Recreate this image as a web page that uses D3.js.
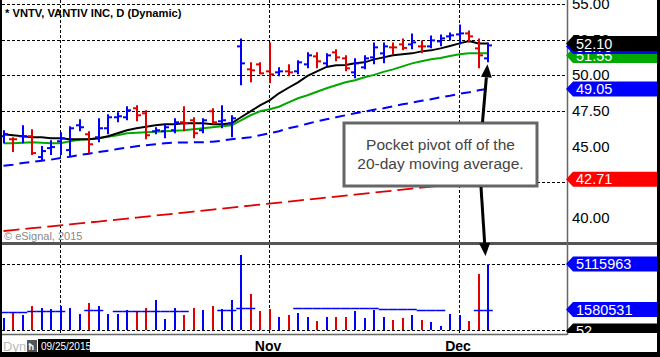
<!DOCTYPE html>
<html><head><meta charset="utf-8">
<script src="https://cdn.jsdelivr.net/npm/d3@7"></script>
<style>
html,body{margin:0;padding:0;background:#fff;overflow:hidden;}
svg{display:block;font-family:Arial,"Liberation Sans",sans-serif;}
</style></head><body>
<svg id="c" width="660" height="357"></svg>
<script>
// ---------- data ----------
const dates = ["2015-09-23","2015-09-24","2015-09-25","2015-09-28","2015-09-29","2015-09-30","2015-10-01","2015-10-02","2015-10-05","2015-10-06","2015-10-07","2015-10-08","2015-10-09","2015-10-12","2015-10-13","2015-10-14","2015-10-15","2015-10-16","2015-10-19","2015-10-20","2015-10-21","2015-10-22","2015-10-23","2015-10-26","2015-10-27","2015-10-28","2015-10-29","2015-10-30","2015-11-02","2015-11-03","2015-11-04","2015-11-05","2015-11-06","2015-11-09","2015-11-10","2015-11-11","2015-11-12","2015-11-13","2015-11-16","2015-11-17","2015-11-18","2015-11-19","2015-11-20","2015-11-23","2015-11-24","2015-11-25","2015-11-27","2015-11-30","2015-12-01","2015-12-02","2015-12-03","2015-12-04"];
const open  = [45.73,45.52,45.73,45.73,44.27,44.90,45.38,44.76,46.50,45.87,45.66,46.29,47.06,47.06,47.69,47.34,46.08,46.08,46.15,46.71,46.85,46.15,47.48,46.78,46.64,52.03,50.42,50.77,50.28,50.21,50.28,50.28,50.77,51.33,50.84,51.61,51.19,50.21,50.56,51.26,51.54,51.96,52.17,52.17,52.03,52.03,52.38,52.73,52.87,52.94,51.89,51.19];
const high  = [46.08,45.59,46.43,46.15,44.97,45.38,45.94,46.36,46.85,46.01,46.92,47.20,47.34,47.76,47.83,47.48,46.29,46.50,46.92,47.76,46.99,46.92,47.62,47.83,47.13,52.52,50.84,50.84,52.24,50.49,50.70,50.98,51.54,51.54,51.47,51.75,51.33,51.12,51.33,52.24,52.24,52.24,52.52,52.87,52.38,52.73,52.80,52.94,53.50,53.08,52.52,52.24];
const low   = [45.31,44.69,45.31,44.48,44.13,44.48,44.48,44.41,46.15,44.62,45.38,45.94,46.78,46.92,46.85,45.59,45.94,45.66,46.01,46.15,45.66,46.01,46.64,46.36,45.73,49.37,49.58,50.14,49.51,50.00,50.00,50.14,50.56,50.56,50.70,51.05,50.35,49.86,50.49,50.84,50.91,51.54,51.82,51.89,51.61,51.96,52.10,52.52,52.24,52.38,50.56,50.98];
const close = [45.87,45.52,45.73,44.55,44.69,44.97,45.59,46.29,46.36,45.17,46.29,47.06,47.13,47.55,47.20,45.80,46.15,46.36,46.71,46.64,45.94,46.85,46.71,46.85,46.99,50.84,50.35,50.14,50.07,50.28,50.21,50.91,51.40,50.98,51.40,51.26,50.49,50.84,51.19,51.96,52.03,51.96,51.92,52.31,52.03,52.45,52.59,52.80,52.94,52.73,51.40,52.10];
const volume = [930000,1395000,1163000,1860000,1705000,1628000,1860000,1705000,1240000,2093000,1860000,1240000,1240000,1550000,1473000,1705000,2325000,853000,1705000,1163000,1705000,1550000,1860000,1628000,2325000,5814000,2791000,1473000,1628000,1008000,1163000,1318000,1008000,698000,1008000,1008000,1008000,1473000,930000,1550000,1008000,775000,930000,1163000,775000,620000,310000,1240000,1163000,698000,4341000,5115963];
const ma10 = [45.87,45.80,45.73,45.66,45.66,45.59,45.59,45.52,45.52,45.52,45.59,45.73,45.94,46.15,46.29,46.40,46.50,46.57,46.57,46.64,46.64,46.64,46.57,46.57,46.64,47.06,47.48,47.90,48.25,48.74,49.13,49.51,49.96,50.28,50.59,50.70,50.73,50.84,50.91,51.12,51.26,51.40,51.47,51.54,51.68,51.75,51.89,52.06,52.24,52.41,52.24,52.24];
const ma20 = [45.24,45.24,45.28,45.31,45.28,45.24,45.24,45.38,45.49,45.52,45.59,45.70,45.80,45.94,45.98,46.01,46.05,46.08,46.12,46.15,46.22,46.29,46.36,46.43,46.50,46.85,47.20,47.48,47.62,47.80,48.11,48.39,48.60,48.85,49.09,49.30,49.51,49.65,49.86,50.03,50.24,50.42,50.63,50.84,50.98,51.12,51.22,51.36,51.47,51.54,51.54,51.54];
const ma50 = [43.66,43.74,43.85,43.92,44.02,44.09,44.20,44.30,44.41,44.51,44.62,44.72,44.83,44.93,45.03,45.10,45.17,45.24,45.28,45.29,45.31,45.31,45.35,45.42,45.52,45.59,45.66,45.80,45.94,46.08,46.29,46.43,46.61,46.78,46.92,47.06,47.20,47.34,47.45,47.59,47.69,47.83,47.97,48.08,48.22,48.32,48.46,48.57,48.71,48.81,48.95,49.05];
const ma200 = [39.09,39.15,39.22,39.29,39.35,39.42,39.48,39.55,39.62,39.69,39.75,39.82,39.89,39.96,40.03,40.10,40.17,40.24,40.31,40.38,40.45,40.52,40.59,40.66,40.73,40.80,40.87,40.94,41.01,41.08,41.15,41.22,41.29,41.36,41.43,41.50,41.57,41.64,41.71,41.78,41.85,41.92,41.99,42.06,42.13,42.20,42.27,42.34,42.43,42.52,42.62,42.71];
const volMA = [1395000,1395000,1395000,1473000,1473000,1473000,1473000,null,null,1550000,1550000,null,1473000,1473000,1473000,1473000,1473000,1473000,1473000,1473000,null,null,null,1550000,1550000,1705000,1705000,null,null,null,null,1705000,1705000,1705000,1705000,1705000,1705000,1705000,1705000,1705000,1628000,1628000,1628000,1628000,1550000,1550000,1550000,null,null,null,1550000,1580531];
const priceTicks = [55, 52.5, 50, 47.5, 45, 42.5, 40];
const gridPriceTicks = [55, 52.5, 50, 47.5];
const monthDates = ["2015-10-01","2015-11-02","2015-12-01"];
const monthLabels = ["","Nov","Dec"];
const priceTagValues = [51.55, 51.75, 52.10, 49.05, 42.71];
const priceTagLabels = ["51.55","51.75","52.10","49.05","42.71"];
const volumeTagValues = [5115963, 1580531];
const title = "* VNTV, VANTIV INC, D (Dynamic)";
const noteLines = ["Pocket pivot off of the", "20-day moving average."];

// ---------- layout ----------
const svg = d3.select("#c");
const W = 660, H = 357;
const plotL = 2, plotR = 567;
const priceTop = 0, priceBot = 242;
const volTop = 245, volBot = 333;
const BLUE = "#0000ff", RED = "#e00000", GREEN = "#00a800";

const x = d3.scalePoint().domain(dates).range([3.5, 488]);
const y = d3.scaleLinear().domain([40, 55]).range([218, 4]);
const yv = d3.scaleLinear().domain([0, 5115963]).range([330, 264]);

svg.append("rect").attr("width", W).attr("height", H).attr("fill", "#fff");

const defs = svg.append("defs");
defs.append("clipPath").attr("id", "pclip").append("rect")
  .attr("x", plotL).attr("y", priceTop).attr("width", plotR - plotL).attr("height", priceBot - priceTop);
defs.append("clipPath").attr("id", "vclip").append("rect")
  .attr("x", plotL).attr("y", volTop).attr("width", plotR - plotL).attr("height", volBot - volTop);
defs.append("clipPath").attr("id", "tclip").append("rect")
  .attr("x", 560).attr("y", volTop).attr("width", 100).attr("height", volBot - volTop);

// grid
const grid = svg.append("g").attr("stroke", "#000").attr("stroke-width", 1).attr("stroke-dasharray", "3,2");
grid.selectAll(".hg").data(gridPriceTicks).join("line")
  .attr("x1", plotL).attr("x2", plotR)
  .attr("y1", d => Math.round(y(d)) + 0.5).attr("y2", d => Math.round(y(d)) + 0.5);
grid.append("line").attr("x1", 537).attr("x2", plotR)
  .attr("y1", Math.round(y(42.5)) + 0.5).attr("y2", Math.round(y(42.5)) + 0.5);
grid.selectAll(".vg").data(monthDates).join("line")
  .attr("x1", d => Math.round(x(d)) - 0.5).attr("x2", d => Math.round(x(d)) - 0.5)
  .attr("y1", 0).attr("y2", volBot);
grid.selectAll(".vv").data([5115963, 0]).join("line")
  .attr("x1", plotL).attr("x2", plotR)
  .attr("y1", d => Math.round(yv(d)) + 0.5).attr("y2", d => Math.round(yv(d)) + 0.5);

// ---------- price pane ----------
const pp = svg.append("g").attr("clip-path", "url(#pclip)");
const idx = d3.range(dates.length);
const lineOf = arr => d3.line().x((d, i) => x(dates[i])).y(d => y(d));

pp.append("path").attr("d", lineOf(ma200)(ma200)).attr("fill", "none")
  .attr("stroke", RED).attr("stroke-width", 1.8).attr("stroke-dasharray", "16,6");
pp.append("path").attr("d", lineOf(ma50)(ma50)).attr("fill", "none")
  .attr("stroke", BLUE).attr("stroke-width", 2).attr("stroke-dasharray", "10,6");
pp.append("path").attr("d", lineOf(ma20)(ma20)).attr("fill", "none")
  .attr("stroke", GREEN).attr("stroke-width", 2);
pp.append("path").attr("d", lineOf(ma10)(ma10)).attr("fill", "none")
  .attr("stroke", "#000").attr("stroke-width", 2);

const colorOf = i => (i === 0 || close[i] >= close[i - 1]) ? BLUE : RED;
const bars = pp.append("g");
idx.forEach(i => {
  const cx = Math.round(x(dates[i]));
  const g = bars.append("g").attr("stroke", colorOf(i)).attr("stroke-width", 2);
  g.append("line").attr("x1", cx).attr("x2", cx).attr("y1", y(high[i]) - 1).attr("y2", y(low[i]) + 1);
  g.append("line").attr("x1", cx - 4).attr("x2", cx).attr("y1", y(open[i])).attr("y2", y(open[i]));
  g.append("line").attr("x1", cx).attr("x2", cx + 4).attr("y1", y(close[i])).attr("y2", y(close[i]));
});

svg.append("text").attr("x", 5).attr("y", 17).attr("font-size", 11.2).attr("font-weight", "bold")
  .attr("fill", "#000").text(title);
svg.append("text").attr("x", 4).attr("y", 240).attr("font-size", 11).attr("fill", "#888").text("© eSignal, 2015");

// ---------- volume pane ----------
const vp = svg.append("g").attr("clip-path", "url(#vclip)");
vp.selectAll(".vb").data(idx).join("line")
  .attr("x1", i => Math.round(x(dates[i]))).attr("x2", i => Math.round(x(dates[i])))
  .attr("y1", yv(0)).attr("y2", i => yv(volume[i]))
  .attr("stroke", i => colorOf(i)).attr("stroke-width", 2);
const half = x.step() / 2;
idx.filter(i => volMA[i] !== null).forEach(i => {
  vp.append("line").attr("x1", x(dates[i]) - half).attr("x2", x(dates[i]) + half)
    .attr("y1", Math.round(yv(volMA[i])) + 0.5).attr("y2", Math.round(yv(volMA[i])) + 0.5)
    .attr("stroke", BLUE).attr("stroke-width", 1.5);
});

// ---------- frames ----------
svg.append("line").attr("x1", plotL).attr("x2", 657).attr("y1", 243.5).attr("y2", 243.5)
  .attr("stroke", "#555").attr("stroke-width", 3);
svg.append("line").attr("x1", plotL).attr("x2", plotR).attr("y1", 334.5).attr("y2", 334.5)
  .attr("stroke", "#666").attr("stroke-width", 1.5);
svg.append("line").attr("x1", plotR + 0.5).attr("x2", plotR + 0.5).attr("y1", 0).attr("y2", 335)
  .attr("stroke", "#666").attr("stroke-width", 1.5);

// ---------- right axis ----------
const hiddenTicks = [42.5]; // fully covered by a value tag
svg.selectAll(".yl").data(priceTicks.filter(d => !hiddenTicks.includes(d))).join("text")
  .attr("x", 572).attr("y", d => y(d) + 5).attr("font-size", 15).attr("fill", "#000")
  .text(d => d3.format(".2f")(d));

function tag(parent, yc, fill, label, textFill) {
  const g = parent.append("g");
  g.append("path").attr("d", `M566,${yc} L573,${yc - 7.5} L657,${yc - 7.5} L657,${yc + 7.5} L573,${yc + 7.5} Z`)
    .attr("fill", fill);
  g.append("text").attr("x", 576).attr("y", yc + 5).attr("font-size", 14.5).attr("fill", textFill).text(label);
  return g;
}
const priceTagFills = [GREEN, BLUE, "#000", BLUE, "#ff0000"];
const priceTagY = [55.5, 46.5, 43.5, y(49.05), y(42.71)];
priceTagValues.forEach((v, k) => tag(svg, priceTagY[k], priceTagFills[k], priceTagLabels[k], "#fff"));
volumeTagValues.forEach(v => tag(svg, yv(v), BLUE, String(v), "#fff"));
tag(svg.append("g").attr("clip-path", "url(#tclip)"), 331, "#000", "52", "#fff");

// ---------- annotation ----------
svg.append("rect").attr("x", 344).attr("y", 123).attr("width", 193).attr("height", 63)
  .attr("fill", "#fff").attr("stroke", "#666").attr("stroke-width", 3);
svg.selectAll(".note").data(noteLines).join("text")
  .attr("x", 440.5).attr("y", (d, k) => 150 + k * 18.5).attr("text-anchor", "middle")
  .attr("font-size", 15.5).attr("fill", "#444").text(d => d);

const lastX = x(dates[dates.length - 1]);
function arrow(x1, y1, x2, y2) {
  const ang = Math.atan2(y2 - y1, x2 - x1);
  const len = 13, w = 5.5;
  const bx = x2 - len * Math.cos(ang), by = y2 - len * Math.sin(ang);
  svg.append("line").attr("x1", x1).attr("y1", y1).attr("x2", bx).attr("y2", by)
    .attr("stroke", "#000").attr("stroke-width", 3);
  const px = -Math.sin(ang) * w, py = Math.cos(ang) * w;
  svg.append("path").attr("d", `M${x2},${y2} L${bx + px},${by + py} L${bx - px},${by - py} Z`).attr("fill", "#000");
}
arrow(482.5, 122, lastX - 0.5, y(low[low.length - 1]) + 3);
arrow(481, 187, lastX - 2.5, yv(volume[volume.length - 1]) - 8);

// ---------- bottom axis ----------
svg.selectAll(".mt").data(monthDates).join("text")
  .attr("x", d => x(d) - 1.5).attr("y", 351).attr("text-anchor", "middle")
  .attr("font-size", 14).attr("font-weight", "bold").attr("fill", "#000")
  .text((d, k) => monthLabels[k]);
svg.append("text").attr("x", 3).attr("y", 351).attr("font-size", 13).attr("fill", "#bbb").text("Dyn");
svg.append("rect").attr("x", 27).attr("y", 340).attr("width", 10).attr("height", 12).attr("fill", "#555");
svg.append("text").attr("x", 28.5).attr("y", 350).attr("font-size", 9).attr("font-weight", "bold").attr("fill", "#fff").text("ħ");
svg.append("rect").attr("x", 38).attr("y", 339).attr("width", 52).attr("height", 13).attr("fill", "#000");
svg.append("text").attr("x", 41).attr("y", 349.5).attr("font-size", 10).attr("fill", "#fff").text("09/25/2015");

// outer frame
svg.append("rect").attr("x", 0).attr("y", 0).attr("width", 2).attr("height", H).attr("fill", "#000");
svg.append("rect").attr("x", 657).attr("y", 0).attr("width", 3).attr("height", H).attr("fill", "#000");
svg.append("rect").attr("x", 0).attr("y", 352).attr("width", W).attr("height", 5).attr("fill", "#000");
</script>
</body></html>
